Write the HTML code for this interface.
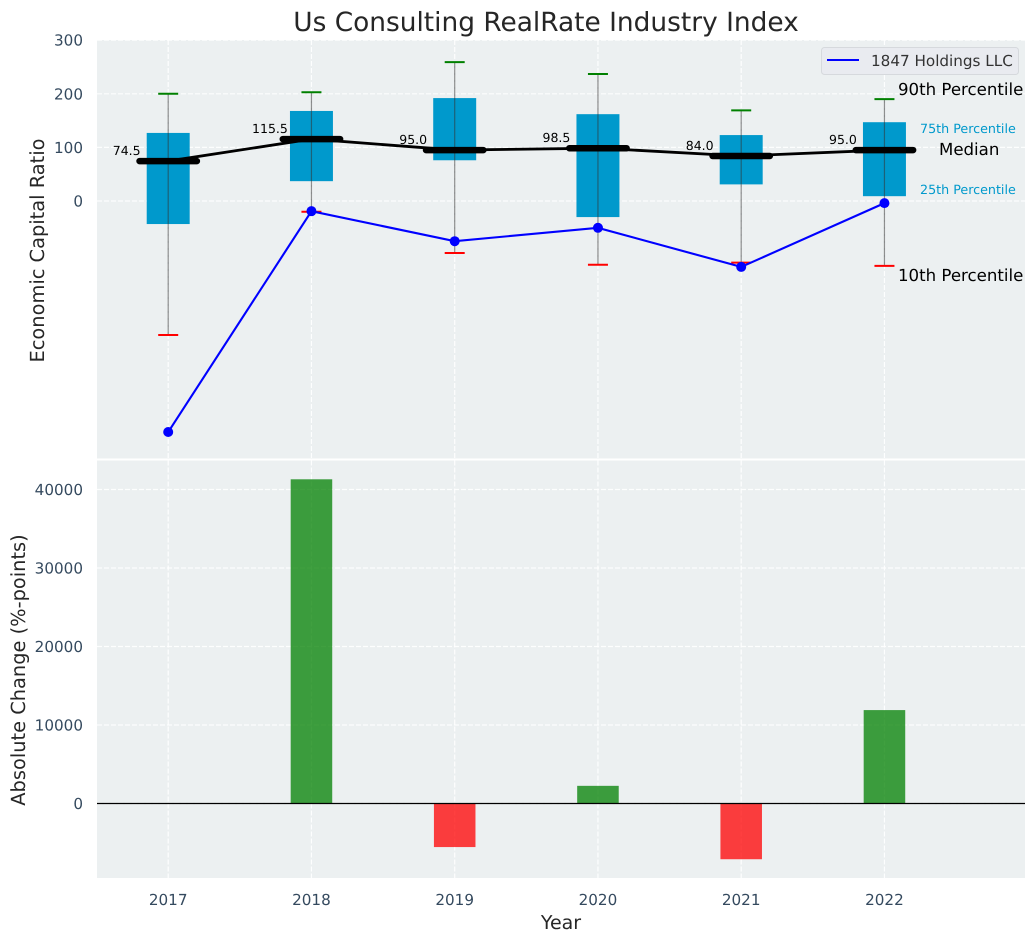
<!DOCTYPE html>
<html>
<head>
<meta charset="utf-8">
<title>Us Consulting RealRate Industry Index</title>
<style>
html,body{margin:0;padding:0;background:#fff;width:1036px;height:942px;overflow:hidden}
svg{display:block;font-family:"DejaVu Sans","Liberation Sans",sans-serif;text-rendering:geometricPrecision}
</style>
</head>
<body>
<svg id="chart" width="1036" height="942" viewBox="0 0 1036 942" xmlns="http://www.w3.org/2000/svg">
  <rect x="97" y="40" width="928" height="418.5" fill="#ecf0f1"/>
  <rect x="97" y="460.5" width="928" height="417.5" fill="#ecf0f1"/>
  <g id="bottomLayer"></g>
  <g id="topLayer"></g>
  <text x="546" y="31" font-size="26.4" fill="#262626" text-anchor="middle">Us Consulting RealRate Industry Index</text>
  <text transform="translate(44,250.5) rotate(-90)" font-size="19.4" fill="#262626" text-anchor="middle">Economic Capital Ratio</text>
  <text transform="translate(25,670) rotate(-90)" font-size="19.4" fill="#262626" text-anchor="middle">Absolute Change (%-points)</text>
  <text x="561" y="929" font-size="19" fill="#262626" text-anchor="middle">Year</text>
  <g>
    <rect x="821.5" y="47.5" width="197" height="27" rx="3" fill="#e9ebf0" stroke="#d6d9dd"/>
    <line x1="827" x2="859" y1="60" y2="60" stroke="#0000ff" stroke-width="2"/>
    <text x="871" y="66" font-size="15.2" fill="#333">1847 Holdings LLC</text>
  </g>
  <g>
    <text x="898" y="95" font-size="16.6" fill="#000">90th Percentile</text>
    <text x="920" y="133" font-size="12.7" fill="#0099cc">75th Percentile</text>
    <text x="939" y="155" font-size="16.6" fill="#000">Median</text>
    <text x="920" y="194" font-size="12.7" fill="#0099cc">25th Percentile</text>
    <text x="898" y="281" font-size="16.6" fill="#000">10th Percentile</text>
  </g>
</svg>
<script>
const years = [2017, 2018, 2019, 2020, 2021, 2022];
const p90 = [200, 203, 259, 237, 169, 190];
const p75 = [127, 168, 192, 162, 123, 147];
const median = [74.5, 115.5, 95.0, 98.5, 84.0, 95.0];
const p25 = [-43, 37, 76, -30, 31, 9];
const p10 = [-250, -20, -97, -119, -115, -121];
const company = [-431, -19, -75, -50, -123, -4];
const changes = [0, 41300, -5550, 2250, -7100, 11900];
const topTicks = [0, 100, 200, 300];
const bottomTicks = [0, 10000, 20000, 30000, 40000];

const NS = 'http://www.w3.org/2000/svg';
const xScale = v => 168.2 + (v - 2017) * 143.25;
const xUnit = 143.25;
const yTop = v => 201 - v * 0.536;
const yBottom = v => 803.5 - v * 0.00785;
const topLayer = document.getElementById('topLayer');
const bottomLayer = document.getElementById('bottomLayer');

function mk(parent, tag, props, text) {
  const el = document.createElementNS(NS, tag);
  for (const k in props) el.setAttribute(k, props[k]);
  if (text !== undefined) el.textContent = text;
  parent.appendChild(el);
  return el;
}
const gridStyle = {stroke: '#ffffff', 'stroke-width': 1.2, 'stroke-dasharray': '5 2', 'stroke-opacity': 0.9};

// top-panel grid and y ticks
topTicks.forEach(t => {
  const g = mk(topLayer, 'line', Object.assign({x1: 97, x2: 1025, y1: yTop(t), y2: yTop(t)}, gridStyle));
  
  
  const l = mk(topLayer, 'text', {x: 83, y: yTop(t) + 5.5, 'font-size': 15.2, fill: '#34495e', 'text-anchor': 'end'}, t);
  
  
});
// bottom-panel grid and y ticks
bottomTicks.forEach(t => {
  const g = mk(bottomLayer, 'line', Object.assign({x1: 97, x2: 1025, y1: yBottom(t), y2: yBottom(t)}, gridStyle));
  
  
  const l = mk(bottomLayer, 'text', {x: 83, y: yBottom(t) + 5.5, 'font-size': 15.2, fill: '#34495e', 'text-anchor': 'end'}, t);
  
  
});
// vertical grid and x tick labels
years.forEach(y => {
  const a = mk(topLayer, 'line', Object.assign({x1: xScale(y), x2: xScale(y), y1: 40, y2: 458.5}, gridStyle));
  
  
  const b = mk(bottomLayer, 'line', Object.assign({x1: xScale(y), x2: xScale(y), y1: 460.5, y2: 878}, gridStyle));
  
  
  const l = mk(bottomLayer, 'text', {x: xScale(y), y: 905, 'font-size': 15.2, fill: '#34495e', 'text-anchor': 'middle'}, y);
  
  
});
// change bars
years.forEach((y, i) => {
  const v = changes[i];
  if (v === 0) return;
  const bar = mk(bottomLayer, 'rect', {
    x: xScale(y) - 0.145 * xUnit, width: 0.29 * xUnit,
    y: Math.min(yBottom(v), yBottom(0)), height: Math.abs(yBottom(v) - yBottom(0)),
    fill: v > 0 ? '#008000' : '#ff0000', 'fill-opacity': 0.75
  });
  
  
});
const zero = mk(bottomLayer, 'line', {x1: 97, x2: 1025, y1: yBottom(0), y2: yBottom(0), stroke: '#000', 'stroke-width': 1.2});



// boxes, whiskers and caps
years.forEach((y, i) => {
  const cx = xScale(y);
  const box = mk(topLayer, 'rect', {
    x: cx - 0.15 * xUnit, width: 0.3 * xUnit,
    y: yTop(p75[i]), height: yTop(p25[i]) - yTop(p75[i]), fill: '#0099cc'
  });
  
  
  const w = mk(topLayer, 'line', {x1: cx, x2: cx, y1: yTop(p90[i]), y2: yTop(p10[i]), stroke: '#333', 'stroke-opacity': 0.55, 'stroke-width': 1.2});
  
  
  const hi = mk(topLayer, 'line', {x1: cx - 10, x2: cx + 10, y1: yTop(p90[i]), y2: yTop(p90[i]), stroke: '#008000', 'stroke-width': 2});
  
  
  const lo = mk(topLayer, 'line', {x1: cx - 10, x2: cx + 10, y1: yTop(p10[i]), y2: yTop(p10[i]), stroke: '#ff0000', 'stroke-width': 2});
  
  
});
// median line
const medLine = mk(topLayer, 'polyline', {
  points: years.map((y, i) => xScale(y) + ',' + yTop(median[i])).join(' '),
  fill: 'none', stroke: '#000', 'stroke-width': 2.8
});


years.forEach((y, i) => {
  const cx = xScale(y);
  const m = mk(topLayer, 'line', {
    x1: cx - 0.2 * xUnit, x2: cx + 0.2 * xUnit, y1: yTop(median[i]), y2: yTop(median[i]),
    stroke: '#000', 'stroke-width': 6.5, 'stroke-linecap': 'round'
  });
  
  
  const l = mk(topLayer, 'text', {
    x: cx - 41.5, y: yTop(median[i]) - 6, 'font-size': 12.5, fill: '#000', 'text-anchor': 'middle'
  }, median[i].toFixed(1));
  
  
});
// company series
const compLine = mk(topLayer, 'polyline', {
  points: years.map((y, i) => xScale(y) + ',' + yTop(company[i])).join(' '),
  fill: 'none', stroke: '#0000ff', 'stroke-width': 2.1
});


years.forEach((y, i) => {
  const p = mk(topLayer, 'circle', {cx: xScale(y), cy: yTop(company[i]), r: 5, fill: '#0000ff'});
  
  
});
</script>
</body>
</html>
